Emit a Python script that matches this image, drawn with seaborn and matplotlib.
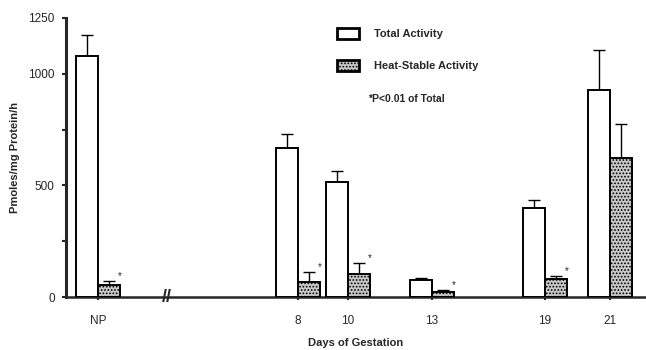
import matplotlib
matplotlib.use("Agg")
import matplotlib.pyplot as plt
import seaborn as sns
import pandas as pd
from matplotlib.patches import Patch
from matplotlib.container import BarContainer

labels = ["NP", "8", "10", "13", "19", "21"]
positions = [0, 8, 10, 13.36, 17.88, 20.48]
total = [1080, 667, 515, 76, 399, 927]
total_err = [94, 63, 50, 9, 36, 180]
heat = [54, 67, 103, 22, 81, 623]
heat_err = [18, 45, 49, 9, 13, 152]
significant = [True, True, True, True, True, False]

series = ["Total Activity", "Heat-Stable Activity"]

df = pd.DataFrame({
    "pos": positions * 2,
    "value": total + heat,
    "series": [series[0]] * len(total) + [series[1]] * len(heat),
})

sns.set_theme(style="ticks")
plt.rcParams["font.family"] = ["Liberation Sans", "DejaVu Sans"]
plt.rcParams["hatch.color"] = "#8a8a8a"
plt.rcParams["hatch.linewidth"] = 0.8

fig = plt.figure(figsize=(6.46, 3.5), dpi=100)
ax = fig.add_axes([0.102, 0.151, 0.898, 0.798])

palette = {series[0]: "white", series[1]: "#c8c8c8"}
sns.barplot(data=df, x="pos", y="value", hue="series", native_scale=True,
            palette=palette, edgecolor="black", linewidth=1.4, width=0.88,
            errorbar=None, legend=False, ax=ax, zorder=3)

bar_containers = [c for c in ax.containers if isinstance(c, BarContainer)]
errs = [total_err, heat_err]
for ci, cont in enumerate(bar_containers):
    for i, bar in enumerate(list(cont)):
        if bar is None:
            continue
        if ci == 1:
            bar.set_hatch(".....")
            bar.set_edgecolor("black")
        cx = bar.get_x() + bar.get_width() / 2
        top = bar.get_height()
        ax.errorbar([cx], [top], yerr=[[0], [errs[ci][i]]], fmt="none",
                    ecolor="black", elinewidth=1.0, capsize=4, capthick=1.0,
                    zorder=2)
        if ci == 1 and significant[i]:
            ax.annotate("*", (cx + bar.get_width() * 0.4, top + errs[ci][i]),
                        xytext=(0, 0), textcoords="offset points",
                        ha="left", va="bottom", fontsize=7)

ax.set_ylim(0, 1250)
ax.set_xlim(-1.28, 21.92)
ax.set_yticks([0, 250, 500, 750, 1000, 1250])
ax.set_yticklabels(["0", "", "500", "", "1000", "1250"])
ax.set_xticks(positions)
ax.set_xticklabels(labels)
ax.tick_params(axis="both", labelsize=8.5, width=1.5, length=3, direction="out", pad=5)
ax.tick_params(axis="x", length=2, pad=11)
for s in ["top", "right"]:
    ax.spines[s].set_visible(False)
ax.spines["left"].set_linewidth(2.2)
ax.spines["bottom"].set_linewidth(1.8)
ax.set_ylabel("Pmoles/mg Protein/h", fontsize=8, fontweight="bold", labelpad=6)
ax.set_xlabel("Days of Gestation", fontsize=8, fontweight="bold", labelpad=8)

# axis break marks
ax.text(2.75, 0, "//", ha="center", va="center", fontsize=13, fontweight="bold",
        zorder=5, clip_on=False)

handles = [Patch(facecolor=palette[s], edgecolor="black", linewidth=2.0,
                 hatch=("....." if s == series[1] else None)) for s in series]
leg = ax.legend(handles, series, loc="upper left", bbox_to_anchor=(0.45, 1.0),
                frameon=False, prop={"size": 8, "weight": "bold"},
                labelspacing=1.9, handlelength=2.0, handleheight=1.1,
                handletextpad=1.3)
ax.text(0.52, 0.71, "*P<0.01 of Total", transform=ax.transAxes,
        fontsize=7.5, fontweight="bold", va="center", ha="left")

fig.savefig("out.png", dpi=100)
